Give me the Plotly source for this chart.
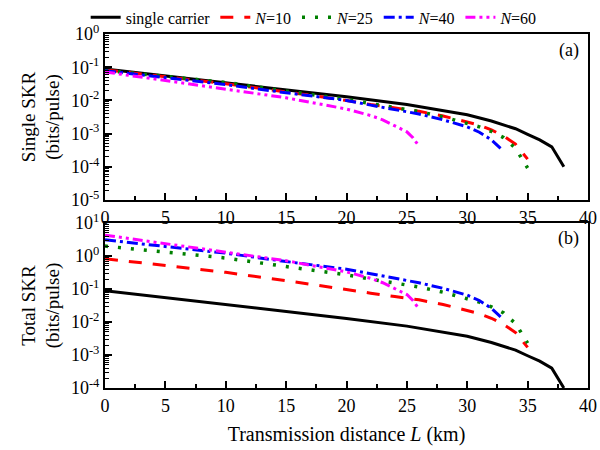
import plotly.graph_objects as go

# ---------------- data ----------------
L_sc = [0, 5, 10, 15, 20, 25, 30, 32, 34, 35, 36, 37, 38]
single_sc = [0.089, 0.055, 0.034, 0.021, 0.0128, 0.0075, 0.0037, 0.0024, 0.0014, 0.00095, 0.00065, 0.0004, 0.0001]
total_sc = [0.089, 0.055, 0.034, 0.021, 0.0128, 0.0075, 0.0037, 0.0024, 0.0014, 0.00095, 0.00065, 0.0004, 0.0001]

L_10 = [0, 5, 10, 15, 20, 22, 24, 26, 28, 30, 31, 32, 33, 34, 35]
single_10 = [0.083, 0.052, 0.032, 0.018, 0.010, 0.0075, 0.0059, 0.0047, 0.0034, 0.0023, 0.0018, 0.0013, 0.00085, 0.00048, 0.00017]
total_10 = [0.83, 0.52, 0.32, 0.18, 0.10, 0.075, 0.059, 0.047, 0.034, 0.023, 0.018, 0.013, 0.0085, 0.0048, 0.0017]

L_25 = [0, 5, 10, 15, 20, 22, 24, 26, 28, 30, 31, 32, 33, 34, 35]
single_25 = [0.08, 0.053, 0.035, 0.019, 0.0108, 0.008, 0.0062, 0.0046, 0.0032, 0.0021, 0.0016, 0.00116, 0.00076, 0.00036, 0.000092]
total_25 = [2.0, 1.33, 0.87, 0.48, 0.27, 0.20, 0.155, 0.115, 0.08, 0.052, 0.04, 0.029, 0.019, 0.009, 0.0023]

L_40 = [0, 5, 10, 15, 20, 22, 24, 26, 28, 30, 31, 32, 33]
single_40 = [0.078, 0.049, 0.030, 0.017, 0.010, 0.0072, 0.0052, 0.0039, 0.0026, 0.0016, 0.0011, 0.00065, 0.0003]
total_40 = [3.1, 1.95, 1.22, 0.68, 0.40, 0.29, 0.21, 0.155, 0.105, 0.065, 0.045, 0.026, 0.012]

L_60 = [0, 5, 10, 15, 20, 22, 23, 24, 25, 25.5, 26]
single_60 = [0.072, 0.040, 0.0225, 0.012, 0.0055, 0.0035, 0.0026, 0.00175, 0.00113, 0.00075, 0.00042]
total_60 = [4.3, 2.4, 1.35, 0.72, 0.33, 0.21, 0.155, 0.105, 0.068, 0.045, 0.025]

names = ["single carrier", "<i>N</i>=10", "<i>N</i>=25", "<i>N</i>=40", "<i>N</i>=60"]
x_ticks = [0, 5, 10, 15, 20, 25, 30, 35, 40]
top_exps = [0, -1, -2, -3, -4, -5]
bot_exps = [1, 0, -1, -2, -3, -4]

# ---------------- styles ----------------
FONT = "'Liberation Serif', 'Times New Roman', Times, serif"
styles = [
    dict(color="black", width=3, dash="solid"),
    dict(color="#ff0000", width=3, dash="13px,11px"),
    dict(color="#008000", width=3.5, dash="3px,10px"),
    dict(color="#0000ff", width=3, dash="11px,4px,3px,4px"),
    dict(color="#ff00ff", width=3, dash="10px,4px,3px,4px,3px,4px"),
]

series = [
    (L_sc, single_sc, total_sc),
    (L_10, single_10, total_10),
    (L_25, single_25, total_25),
    (L_40, single_40, total_40),
    (L_60, single_60, total_60),
]

fig = go.Figure()
for i, (L, s, t) in enumerate(series):
    fig.add_trace(go.Scatter(x=L, y=s, mode="lines", name=names[i], line=styles[i],
                             xaxis="x", yaxis="y", showlegend=True))
    fig.add_trace(go.Scatter(x=L, y=t, mode="lines", name=names[i], line=styles[i],
                             xaxis="x2", yaxis="y2", showlegend=False))

axis_common = dict(showline=True, linewidth=2, linecolor="black", mirror=True,
                   ticks="inside", ticklen=7, tickwidth=1.5, tickcolor="black",
                   showgrid=False, zeroline=False, automargin=False,
                   tickfont=dict(family=FONT, size=18, color="black"))

xcommon = dict(axis_common, range=[0, 40], tickvals=x_ticks,
               minor=dict(ticks="inside", dtick=2.5, ticklen=4, tickcolor="black", tickwidth=1.5))

def ycommon(exps, title):
    lo, hi = min(exps), max(exps)
    return dict(axis_common, type="log", range=[lo, hi],
                tickvals=[10.0 ** e for e in exps],
                ticktext=["10<sup>%d</sup>" % e for e in exps],
                minor=dict(ticks="inside", ticklen=4, tickcolor="black", tickwidth=1, dtick="D1"),
                title=dict(text=title, font=dict(family=FONT, size=19, color="black"), standoff=6))

fig.update_layout(
    width=600, height=450,
    margin=dict(l=105, r=12, t=34, b=62, autoexpand=False),
    paper_bgcolor="white", plot_bgcolor="white",
    font=dict(family=FONT, color="black"),
    xaxis=dict(xcommon, domain=[0, 1], anchor="y"),
    yaxis=dict(ycommon(top_exps, "Single SKR<br>(bits/pulse)"), domain=[0.531, 1], anchor="x"),
    xaxis2=dict(xcommon, domain=[0, 1], anchor="y2",
                title=dict(text="Transmission distance <i>L</i> (km)",
                           font=dict(family=FONT, size=20, color="black"), standoff=12)),
    yaxis2=dict(ycommon(bot_exps, "Total SKR<br>(bits/pulse)"), domain=[0, 0.466], anchor="x2"),
    legend=dict(orientation="h", x=-0.04, y=1.095, xanchor="left", yanchor="top",
                font=dict(family=FONT, size=16, color="black"),
                bgcolor="rgba(0,0,0,0)", itemwidth=30, tracegroupgap=0),
    annotations=[
        dict(text="(a)", x=0.985, y=0.99, xref="paper", yref="paper", xanchor="right", yanchor="top",
             showarrow=False, font=dict(family=FONT, size=18, color="black")),
        dict(text="(b)", x=0.985, y=0.457, xref="paper", yref="paper", xanchor="right", yanchor="top",
             showarrow=False, font=dict(family=FONT, size=18, color="black")),
    ],
)

fig.write_html("out.html")
